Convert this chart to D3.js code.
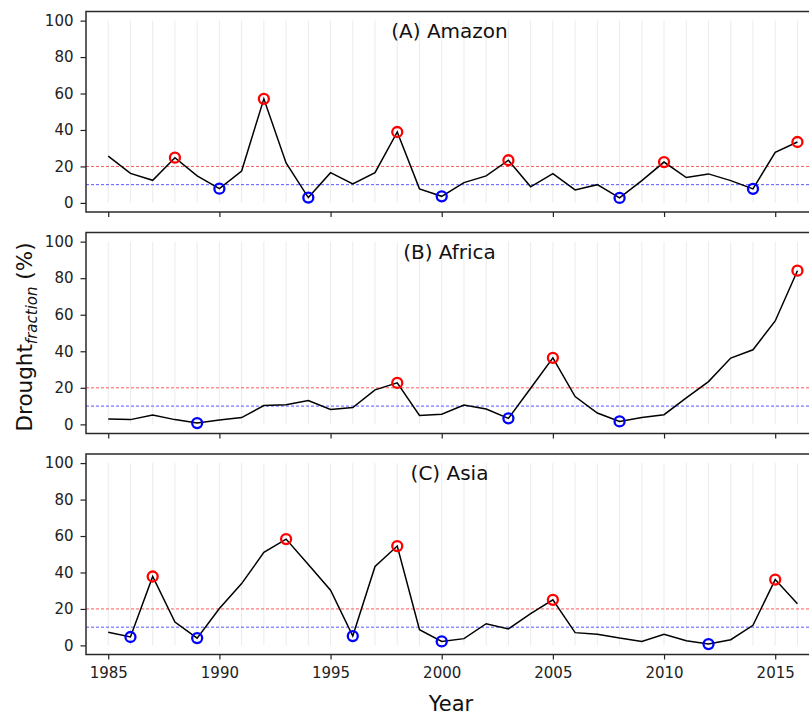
<!DOCTYPE html>
<html><head><meta charset="utf-8">
<script src="https://cdn.jsdelivr.net/npm/d3@7"></script>
<style>body{margin:0;background:#fff}svg{display:block}text{font-family:"DejaVu Sans",sans-serif}</style>
</head><body><svg id="c" width="809" height="715"></svg>
<script>
const years = d3.range(1985, 2017);
const amazon = [25.7,16.2,12.4,24.8,14.8,7.8,17.5,57.1,21.9,2.9,16.6,10.4,16.6,38.9,7.7,3.6,11.1,14.8,23.4,8.8,16.1,7.1,10.0,2.7,12.2,22.4,13.9,15.9,12.2,7.7,27.7,33.4];
const africa = [2.9,2.6,5.1,2.6,0.7,2.4,3.7,10.3,10.8,13.0,8.1,9.2,18.9,22.7,4.9,5.5,10.6,8.4,3.3,19.8,36.4,15.2,6.2,1.6,3.7,5.3,14.5,23.4,36.3,40.8,56.6,84.1];
const asia = [7.2,4.6,37.8,12.8,4.0,20.2,33.9,51.0,58.3,44.4,30.3,5.1,43.3,54.5,8.6,2.2,3.7,11.9,9.0,17.4,25.0,7.0,6.1,4.0,2.2,6.1,2.6,0.7,3.1,11.0,36.1,22.8];
const amazonHigh = [1988,1992,1998,2003,2010,2016];
const amazonLow = [1990,1994,2000,2008,2014];
const africaHigh = [1998,2005,2016];
const africaLow = [1989,2003,2008];
const asiaHigh = [1987,1993,1998,2005,2015];
const asiaLow = [1986,1989,1996,2000,2012];
const titles = ["(A) Amazon","(B) Africa","(C) Asia"];
const highThreshold = 20, lowThreshold = 10;
const yTicks = [0,20,40,60,80,100];
const xTicks = [1985,1990,1995,2000,2005,2010,2015];

const panels = [
  {title:titles[0], values:amazon, high:amazonHigh, low:amazonLow, top:11.5, bottom:212},
  {title:titles[1], values:africa, high:africaHigh, low:africaLow, top:232.5, bottom:433.5},
  {title:titles[2], values:asia, high:asiaHigh, low:asiaLow, top:454, bottom:654.5}
];
const svg = d3.select("#c");
const left = 86, right = 813;
const x = d3.scaleLinear().domain([1984, 2016.7]).range([left, right]);

panels.forEach((p, i) => {
  const y = d3.scaleLinear().domain([-5, 105]).range([p.bottom, p.top]);
  const g = svg.append("g");
  g.selectAll("line.grid").data(years).join("line")
    .attr("x1", d => x(d)).attr("x2", d => x(d))
    .attr("y1", y(0)).attr("y2", y(100))
    .attr("stroke", "#ebebeb").attr("stroke-width", 1);
  g.append("line").attr("x1", left).attr("x2", right).attr("y1", y(highThreshold)).attr("y2", y(highThreshold))
    .attr("stroke", "#ff3b3b").attr("stroke-width", 1).attr("stroke-dasharray", "3,2").attr("opacity", 0.85);
  g.append("line").attr("x1", left).attr("x2", right).attr("y1", y(lowThreshold)).attr("y2", y(lowThreshold))
    .attr("stroke", "#3b3bff").attr("stroke-width", 1).attr("stroke-dasharray", "3,2").attr("opacity", 0.85);
  const line = d3.line().x((d, j) => x(years[j])).y(d => y(d));
  g.append("path").datum(p.values).attr("d", line).attr("fill", "none")
    .attr("stroke", "#000").attr("stroke-width", 1.5).attr("stroke-linejoin", "miter");
  const val = yr => p.values[years.indexOf(yr)];
  g.selectAll("circle.h").data(p.high).join("circle")
    .attr("cx", d => x(d)).attr("cy", d => y(val(d))).attr("r", 5)
    .attr("fill", "none").attr("stroke", "#ff0000").attr("stroke-width", 2.3);
  g.selectAll("circle.l").data(p.low).join("circle")
    .attr("cx", d => x(d)).attr("cy", d => y(val(d))).attr("r", 5)
    .attr("fill", "none").attr("stroke", "#0000ff").attr("stroke-width", 2.3);
  const ya = d3.axisLeft(y).tickValues(yTicks).tickSize(5.5).tickPadding(7);
  const yg = g.append("g").attr("transform", `translate(${left},0)`).call(ya);
  const xa = d3.axisBottom(x).tickValues(xTicks).tickSize(5).tickPadding(7.5)
    .tickFormat(i === 2 ? d3.format("d") : () => "");
  const xg = g.append("g").attr("transform", `translate(0,${p.bottom})`).call(xa);
  [yg, xg].forEach(a => {
    a.select(".domain").remove();
    a.selectAll(".tick line").attr("stroke", "#222").attr("stroke-width", 1.2);
    a.selectAll(".tick text").attr("font-size", 15).attr("fill", "#222").attr("font-family", "DejaVu Sans");
  });
  g.append("rect").attr("x", left).attr("y", p.top).attr("width", right - left).attr("height", p.bottom - p.top)
    .attr("fill", "none").attr("stroke", "#2a2a2a").attr("stroke-width", 1.5);
  g.append("text").attr("x", 449.5).attr("y", p.top + 26).attr("text-anchor", "middle")
    .attr("font-size", 20).attr("fill", "#111").text(p.title);
});

const yl = svg.append("text").attr("transform", "translate(32,337) rotate(-90)")
  .attr("text-anchor", "middle").attr("font-size", 21.5).attr("fill", "#111");
yl.append("tspan").text("Drought");
yl.append("tspan").attr("font-style", "italic").attr("font-size", 15).attr("dy", 5).text("fraction");
yl.append("tspan").attr("dy", -5).text(" (%)");
svg.append("text").attr("x", 451).attr("y", 711).attr("text-anchor", "middle")
  .attr("font-size", 21).attr("fill", "#111").text("Year");
</script></body></html>
